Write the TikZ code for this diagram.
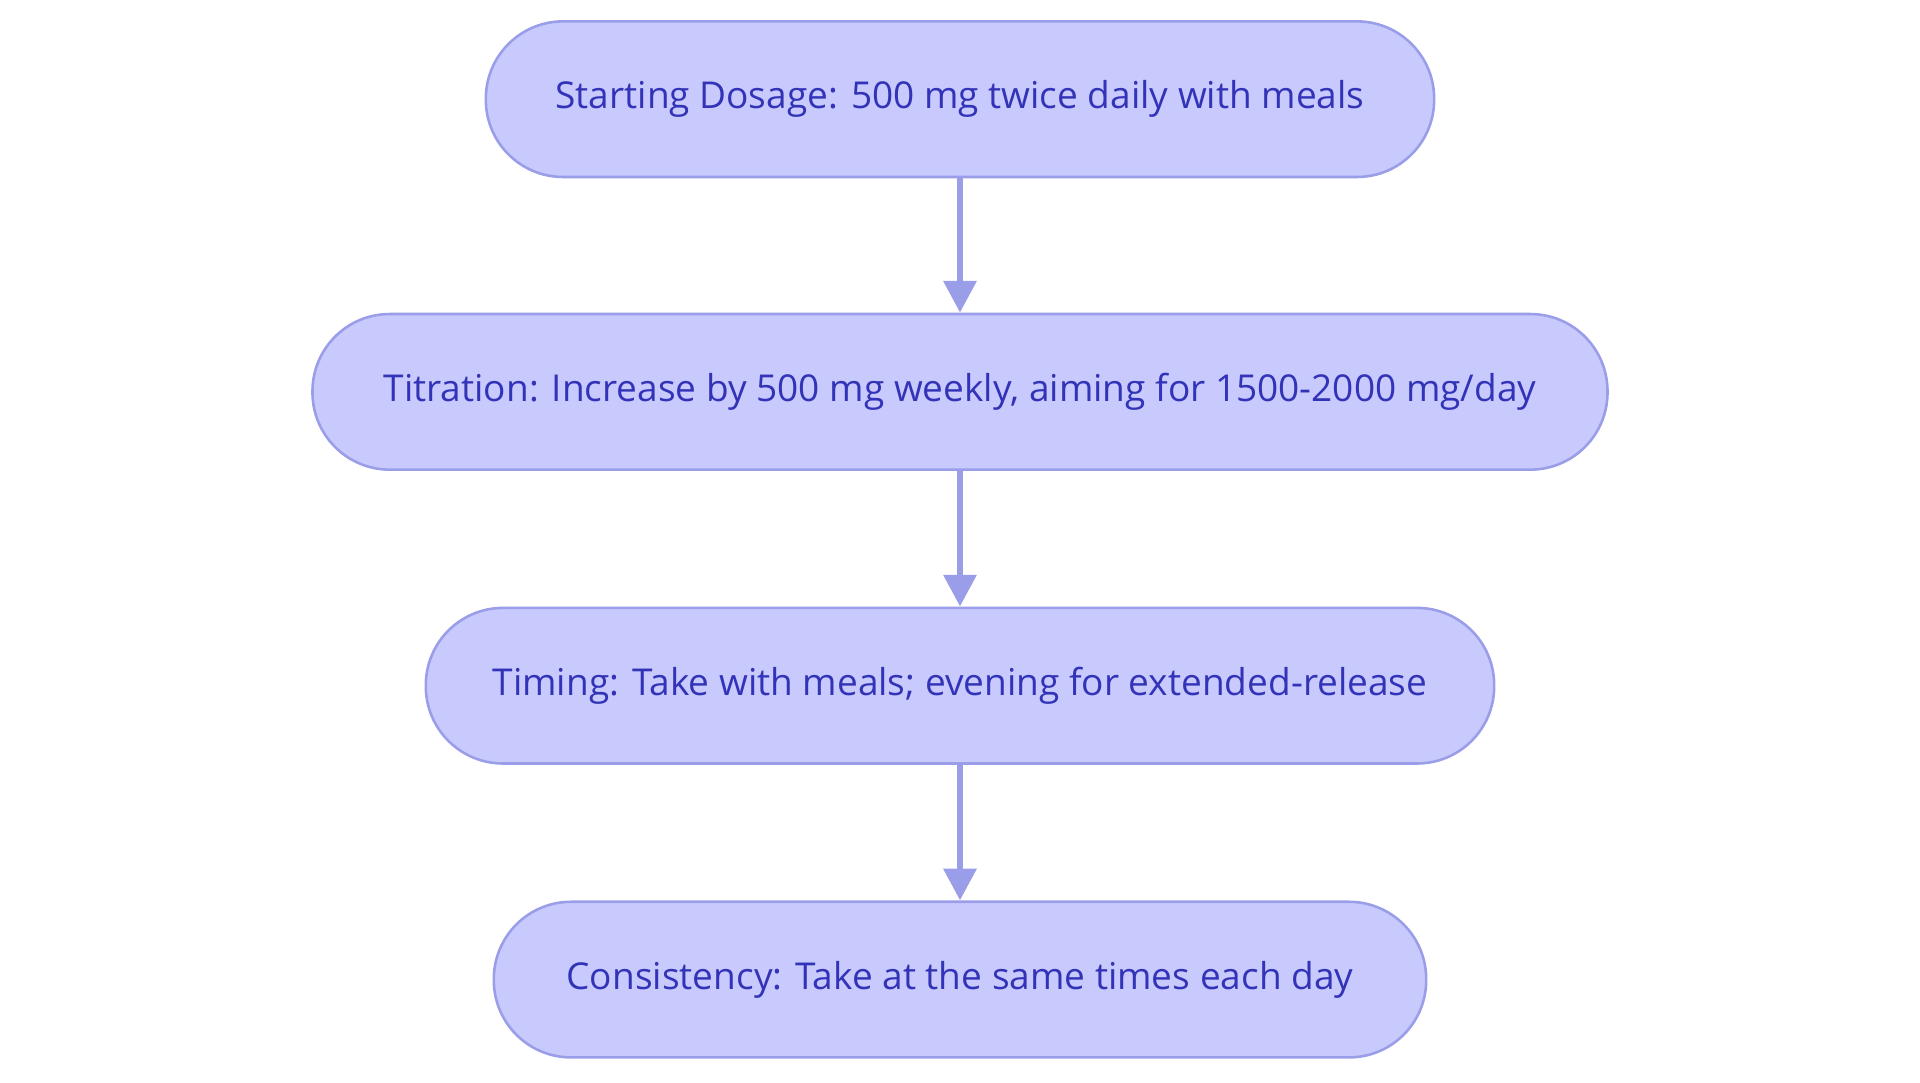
\documentclass[tikz,border=0pt]{standalone}
\usepackage{fontspec}
\setmainfont{Open Sans}
\usetikzlibrary{arrows.meta}
\definecolor{boxfill}{HTML}{C8CAFE}
\definecolor{boxline}{HTML}{9A9EE8}
\definecolor{boxtext}{HTML}{3333B8}
\tikzset{
  dosestep/.style={draw=boxline, fill=boxfill, line width=0.6pt, rounded corners=0.63cm,
    minimum height=1.27cm, inner sep=0pt, text=boxtext, font=\fontsize{8.6}{10}\selectfont},
  flow/.style={draw=boxline, line width=1.6pt, -{Triangle[length=0.26cm,width=0.26cm]}}
}
\begin{document}
\begin{tikzpicture}[x=0.01cm,y=0.01cm]
\useasboundingbox (0,0) rectangle (1568,884);
\node[dosestep, minimum width=7.74cm] (start) at (784,803) {Starting Dosage: 500 mg twice daily with meals};
\node[dosestep, minimum width=10.57cm] (titr) at (784,564) {Titration: Increase by 500 mg weekly, aiming for 1500-2000 mg/day};
\node[dosestep, minimum width=8.72cm] (timing) at (784,324) {Timing: Take with meals; evening for extended-release};
\node[dosestep, minimum width=7.61cm] (cons) at (784,84) {Consistency: Take at the same times each day};
% arrows
\draw[flow] (start) -- (titr);
\draw[flow] (titr) -- (timing);
\draw[flow] (timing) -- (cons);
\end{tikzpicture}
\end{document}
